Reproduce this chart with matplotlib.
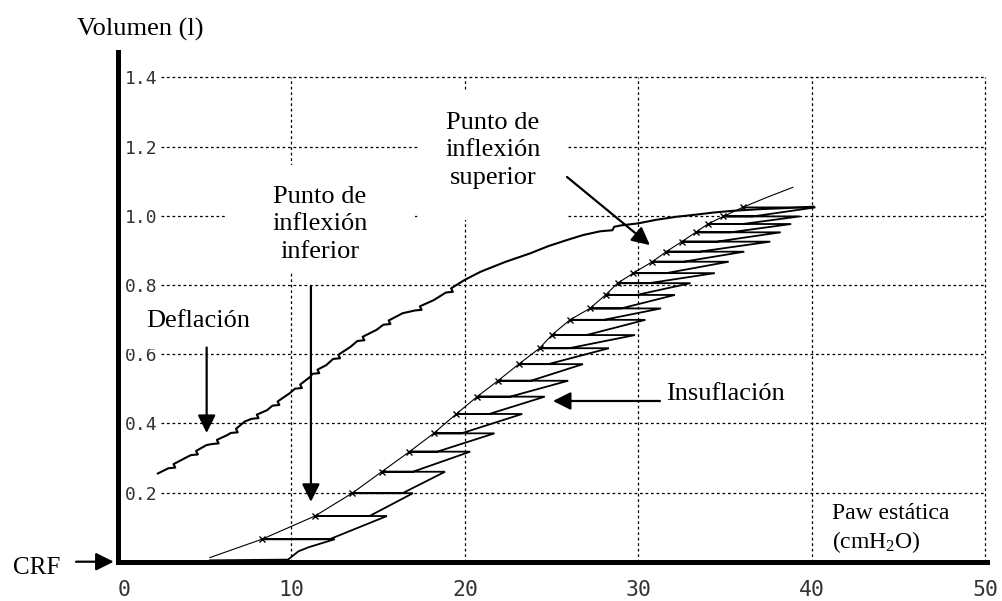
import matplotlib
matplotlib.use("Agg")
import matplotlib.pyplot as plt
from matplotlib.patches import Rectangle

plt.rcParams['font.family'] = ['DejaVu Sans']
plt.rcParams['mathtext.fontset'] = 'custom'
plt.rcParams['mathtext.rm'] = 'Liberation Serif'
plt.rcParams['mathtext.it'] = 'Liberation Serif:italic'

# ---------------- data ----------------
x_ticks = [0, 10, 20, 30, 40, 50]
x_tick_labels = ["0", "10", "20", "30", "40", "50"]
y_ticks = [0.2, 0.4, 0.6, 0.8, 1.0, 1.2, 1.4]
y_tick_labels = ["0.2", "0.4", "0.6", "0.8", "1.0", "1.2", "1.4"]

# deflation limb (pressure cmH2O, volume l)
defl_p = [40.1, 38.5, 37.0, 35.4, 34.3, 33.3, 32.2, 31.0, 30.0, 29.0,
          28.6, 28.5, 27.8, 26.8, 25.9, 24.8, 23.75, 22.3, 20.9, 20.0,
          19.2, 19.3, 18.9, 18.2, 17.4, 17.5, 17.1, 16.4, 15.6, 15.7,
          15.3, 14.9, 14.1, 14.2, 13.8, 13.4, 12.7, 12.8, 12.4, 12.0,
          11.5, 11.6, 11.2, 11.1, 10.5, 10.6, 10.2, 9.9, 9.2, 9.3,
          8.9, 8.6, 8.0, 8.1, 7.7, 7.3, 6.8, 6.9, 6.5, 6.3,
          5.7, 5.8, 5.4, 5.1, 4.5, 4.6, 4.2, 4.0, 3.2, 3.3,
          2.9, 2.3]
defl_v = [1.026, 1.022, 1.019, 1.014, 1.009, 1.003, 0.997, 0.988, 0.978, 0.972,
          0.968, 0.958, 0.955, 0.944, 0.930, 0.912, 0.891, 0.866, 0.838, 0.815,
          0.790, 0.780, 0.778, 0.756, 0.738, 0.728, 0.726, 0.718, 0.697, 0.687,
          0.685, 0.670, 0.650, 0.640, 0.638, 0.621, 0.598, 0.588, 0.586, 0.568,
          0.555, 0.545, 0.543, 0.535, 0.512, 0.502, 0.500, 0.487, 0.463, 0.453,
          0.451, 0.438, 0.425, 0.415, 0.413, 0.405, 0.384, 0.374, 0.372, 0.366,
          0.352, 0.342, 0.340, 0.337, 0.320, 0.310, 0.308, 0.303, 0.282, 0.272,
          0.270, 0.255]

# inflation: volume levels of each step, static (relaxed) pressure, peak pressure
step_v = [0.065, 0.132, 0.198, 0.260, 0.318, 0.371, 0.427, 0.477, 0.523, 0.571,
          0.617, 0.655, 0.699, 0.732, 0.771, 0.805, 0.834, 0.867, 0.896, 0.925,
          0.952, 0.976, 0.998, 1.024]
static_p = [8.3, 11.35, 13.5, 15.2, 16.8, 18.2, 19.5, 20.7, 21.9, 23.1,
            24.3, 25.0, 26.05, 27.2, 28.1, 28.8, 29.7, 30.8, 31.6, 32.5,
            33.3, 34.0, 34.9, 36.0]
peak_p = [12.5, 15.5, 17.0, 18.85, 20.3, 21.7, 23.3, 24.6, 25.95, 26.8,
          28.3, 29.8, 30.4, 31.3, 32.1, 33.0, 34.4, 35.2, 36.1, 37.6,
          38.2, 38.8, 39.3, 40.2]
# pressure where each new insufflation starts (on the previous step level)
slant_start_p = [12.2, 14.5, 16.4, 17.0, 18.4, 19.8, 21.4, 22.6, 23.8, 24.8,
                 26.0, 27.0, 28.0, 29.0, 29.9, 30.6, 31.6, 32.6, 33.5, 34.5,
                 35.3, 36.0, 36.6]
# beginning of the inflation trace near CRF
base_p = [5.3, 9.8, 10.4, 11.0]
base_v = [0.004, 0.006, 0.030, 0.042]
# fitted inflation envelope (static curve) before first / beyond last step
env_start = (5.3, 0.012)
env_end_p = [37.4, 38.9]
env_end_v = [1.053, 1.082]

# ---------------- figure ----------------
fig = plt.figure(figsize=(10.02, 6.01), dpi=100)
ax = fig.add_axes([118 / 1002, (601 - 561.7) / 601, 869 / 1002, 510 / 601])
ax.set_xlim(0, 50.09)
ax.set_ylim(0, 1.474)


def px2data(px, py):
    return (px - 118) / 17.35, (561.7 - py) / 346.0


for s in ["top", "right"]:
    ax.spines[s].set_visible(False)
for s in ["left", "bottom"]:
    ax.spines[s].set_linewidth(3.6)
    ax.spines[s].set_color("black")
    ax.spines[s].set_zorder(5)

# grid (dotted)
ax.hlines(y_ticks, 2.5, 50, colors="black", linewidth=0.9,
          linestyles=(0, (2.2, 2.2)), zorder=1)
ax.vlines(x_ticks[1:], 0, 1.4, colors="black", linewidth=0.9,
          linestyles=(0, (2.2, 2.2)), zorder=1)

# ticks
ax.set_xticks(x_ticks)
ax.set_xticklabels(x_tick_labels, family="DejaVu Sans Mono", fontsize=15.5,
                   color="#333333")
ax.set_yticks(y_ticks)
ax.set_yticklabels(y_tick_labels, family="DejaVu Sans Mono", fontsize=13,
                   color="#333333")
ax.tick_params(axis="x", length=0, pad=13)
ax.tick_params(axis="y", length=0, pad=-5)
for lbl in ax.get_yticklabels():
    lbl.set_horizontalalignment("left")
ax.get_xticklabels()[0].set_horizontalalignment("left")

# white text boxes of the original figure (masks over grid)
for (x0, y0, x1, y1) in [(120, 292, 273, 349),    # Deflación
                         (227, 165, 415, 272),    # inferior
                         (420, 92, 567, 220)]:    # superior
    dx0, dy1 = px2data(x0, y0)
    dx1, dy0 = px2data(x1, y1)
    ax.add_patch(Rectangle((dx0, dy0), dx1 - dx0, dy1 - dy0,
                           facecolor="white", edgecolor="none", zorder=2.6))

# inflation sawtooth trace
tr_p = list(base_p) + [peak_p[0], static_p[0]]
tr_v = list(base_v) + [step_v[0], step_v[0]]
for k in range(len(slant_start_p)):
    tr_p += [slant_start_p[k], peak_p[k + 1], static_p[k + 1]]
    tr_v += [step_v[k], step_v[k + 1], step_v[k + 1]]
ax.plot(tr_p, tr_v, color="black", linewidth=1.3, zorder=3,
        solid_joinstyle="miter")

# envelope with step markers
env_p = [env_start[0]] + static_p + env_end_p
env_v = [env_start[1]] + step_v + env_end_v
ax.plot(env_p, env_v, color="black", linewidth=0.8, zorder=3)
ax.plot(static_p, step_v, linestyle="none", marker="x", markersize=4.5,
        markeredgewidth=1.0, color="black", zorder=3)

# deflation limb
ax.plot(defl_p, defl_v, color="black", linewidth=1.5, zorder=3)

# ---------------- annotations ----------------
serif = "Liberation Serif"
arrow_kw = dict(arrowstyle="-|>,head_length=0.4,head_width=0.2", color="black",
                lw=1.6, shrinkA=0, shrinkB=0, mutation_scale=27)


def arrow(start, tip):
    ax.annotate("", xy=tip, xytext=start, arrowprops=arrow_kw,
                annotation_clip=False, zorder=4)


ax.text(-2.36, 1.522, "Volumen (l)", family=serif, fontsize=19,
        ha="left", va="baseline", clip_on=False, zorder=4)

ax.text(-6.05, -0.036, "CRF", family=serif, fontsize=18,
        ha="left", va="baseline", clip_on=False, zorder=4)
arrow((-2.42, 0.0), (-0.25, 0.0))

ax.text(1.61, 0.677, "Deflación", family=serif, fontsize=19,
        ha="left", va="baseline", zorder=4)
arrow((5.11, 0.619), (5.11, 0.372))

ax.text(11.64, 0.878, "Punto de\ninflexión\ninferior", family=serif,
        fontsize=19, ha="center", va="baseline", linespacing=1.33, zorder=4,
        multialignment="center")
arrow((11.12, 0.797), (11.12, 0.173))

ax.text(21.61, 1.092, "Punto de\ninflexión\nsuperior", family=serif,
        fontsize=19, ha="center", va="baseline", linespacing=1.33, zorder=4,
        multialignment="center")
arrow((25.88, 1.112), (30.66, 0.915))

ax.text(31.62, 0.467, "Insuflación", family=serif, fontsize=19,
        ha="left", va="baseline", zorder=4)
arrow((31.24, 0.4645), (25.07, 0.4645))

ax.text(41.13, 0.123, "Paw estática", family=serif, fontsize=17,
        ha="left", va="baseline", zorder=4)
ax.text(41.13, 0.0396, r"(cmH$_2$O)", family=serif, fontsize=17,
        ha="left", va="baseline", zorder=4)

fig.savefig("out.png", dpi=100, facecolor="white")
